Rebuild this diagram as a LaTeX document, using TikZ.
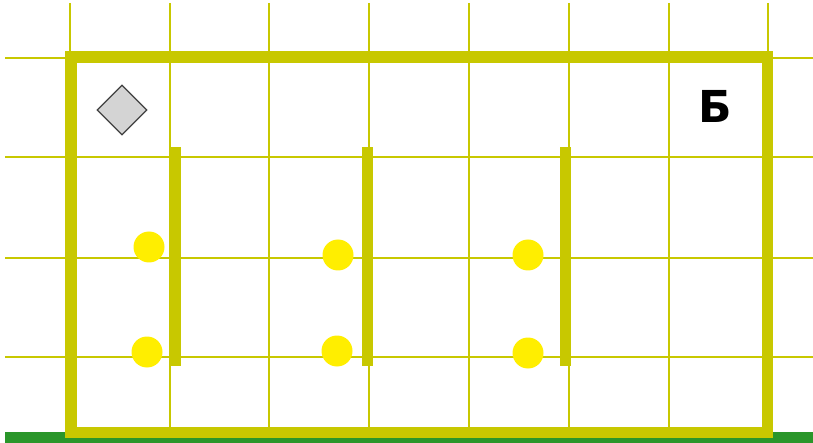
\documentclass[tikz,border=0pt]{standalone}
\usepackage{fontspec}
\newfontfamily\cyrfont{DejaVu Sans}
\usetikzlibrary{shapes.geometric}
\definecolor{wallolive}{RGB}{200,200,0}
\definecolor{coinyellow}{RGB}{255,238,0}
\definecolor{grassgreen}{RGB}{42,150,42}

\begin{document}
\begin{tikzpicture}[
  x=1pt, y=-1pt,
  gridline/.style={wallolive, line width=2pt},
  wall/.style={fill=wallolive},
  coin/.style={circle, fill=coinyellow, minimum size=31pt, inner sep=0pt},
  gem/.style={diamond, draw=black!75, fill=black!17, line width=1.2pt, minimum size=50pt, inner sep=0pt},
  letter/.style={font=\cyrfont\bfseries\fontsize{44}{44}\selectfont, inner sep=0pt},
]
\useasboundingbox (0,0) rectangle (813,443);

% grid
\foreach \gx in {70,170,269,369,469,569,669,768}
  \draw[gridline] (\gx,3) -- (\gx,443);
\foreach \gy in {58,157,258,357}
  \draw[gridline] (5,\gy) -- (813,\gy);

% ground
\fill[grassgreen] (5,432) rectangle (813,443);

% outer walls
\path[wall] (65,51) rectangle (773,63);
\path[wall] (65,51) rectangle (77,438);
\path[wall] (762,51) rectangle (773,438);
\path[wall] (65,427) rectangle (773,438);

% inner walls
\path[wall] (170,147) rectangle (181,366);
\path[wall] (362,147) rectangle (373,366);
\path[wall] (560,147) rectangle (571,366);

% coins
\node[coin] (c1) at (149,247) {};
\node[coin] (c2) at (147,352) {};
\node[coin] (c3) at (338,255) {};
\node[coin] (c4) at (337,351) {};
\node[coin] (c5) at (528,255) {};
\node[coin] (c6) at (528,353) {};

% gem and label
\node[gem] (gem) at (122,110) {};
\node[letter, anchor=base] (lbl) at (715,123) {Б};

\end{tikzpicture}
\end{document}
